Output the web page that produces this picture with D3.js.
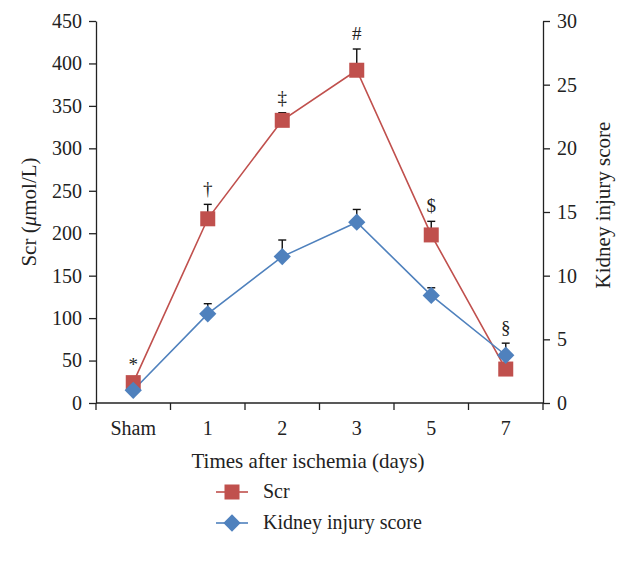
<!DOCTYPE html>
<html>
<head>
<meta charset="utf-8">
<script src="https://cdn.jsdelivr.net/npm/d3@7"></script>
<style>
  body { margin: 0; background: #fff; }
  svg text { font-family: "Liberation Serif", "DejaVu Serif", serif; fill: #222; }
</style>
</head>
<body>
<div id="chart"></div>
<script>
// data
var days = ["Sham", "1", "2", "3", "5", "7"];
var scr = [24, 217, 333, 392, 198, 40];
var scrErr = [3, 17, 9, 25, 16, 0];
var injury = [1.0, 7.0, 11.5, 14.2, 8.45, 3.75];
var injuryErr = [0.5, 0.8, 1.3, 1.0, 0.6, 0.95];
var marks = ["*", "\u2020", "\u2021", "#", "$", "\u00a7"];
var leftTicks = [0, 50, 100, 150, 200, 250, 300, 350, 400, 450];
var rightTicks = [0, 5, 10, 15, 20, 25, 30];

var width = 629, height = 574;
var red = "#c0504d", blue = "#4f81bd";

var svg = d3.select("#chart").append("svg")
  .attr("width", width)
  .attr("height", height);

var x = d3.scaleBand().domain(days).range([96, 543]);
var yL = d3.scaleLinear().domain([0, 450]).range([403, 21]);
var yR = d3.scaleLinear().domain([0, 30]).range([403, 21]);
var cx = d => x(d) + x.bandwidth() / 2;

// axes
var gl = svg.append("g").attr("transform", "translate(96,0)")
  .call(d3.axisLeft(yL).tickValues(leftTicks).tickSize(7).tickSizeOuter(0).tickPadding(7));
var gr = svg.append("g").attr("transform", "translate(543,0)")
  .call(d3.axisRight(yR).tickValues(rightTicks).tickSize(7).tickSizeOuter(0).tickPadding(7));
var gb = svg.append("g").attr("transform", "translate(0,403)")
  .call(d3.axisBottom(x).tickSize(0).tickPadding(18));
gb.select(".domain").attr("d", "M96,0H543");
gb.selectAll(".edge")
  .data(days.map(d => x(d)).concat([x.range()[1]]))
  .join("line")
  .attr("class", "edge")
  .attr("x1", d => d).attr("x2", d => d)
  .attr("y1", 0).attr("y2", 7)
  .attr("stroke", "#222");
[gl, gr, gb].forEach(g => {
  g.selectAll(".domain, .tick line, .edge").attr("stroke", "#222").attr("stroke-width", 1.3);
  g.selectAll("text").style("font-size", "20px").attr("fill", "#222");
});

// axis titles
svg.append("text")
  .attr("transform", "translate(36,212) rotate(-90)")
  .attr("text-anchor", "middle")
  .style("font-size", "21px")
  .html('Scr (<tspan font-style="italic">\u03bc</tspan>mol/L)');
svg.append("text")
  .attr("transform", "translate(610,205) rotate(-90)")
  .attr("text-anchor", "middle")
  .style("font-size", "21px")
  .text("Kidney injury score");
svg.append("text")
  .attr("x", 308).attr("y", 468)
  .attr("text-anchor", "middle")
  .style("font-size", "21px")
  .text("Times after ischemia (days)");

// error bars
function errBars(vals, errs, y) {
  var g = svg.append("g").attr("stroke", "#111").attr("stroke-width", 1.4);
  days.forEach((d, i) => {
    if (!errs[i]) return;
    g.append("line").attr("x1", cx(d)).attr("x2", cx(d))
      .attr("y1", y(vals[i])).attr("y2", y(vals[i] + errs[i]));
    g.append("line").attr("x1", cx(d) - 4).attr("x2", cx(d) + 4)
      .attr("y1", y(vals[i] + errs[i])).attr("y2", y(vals[i] + errs[i]));
  });
}
errBars(scr, scrErr, yL);
errBars(injury, injuryErr, yR);

// lines
var lineL = d3.line().x((d, i) => cx(days[i])).y(d => yL(d));
var lineR = d3.line().x((d, i) => cx(days[i])).y(d => yR(d));
svg.append("path").datum(scr).attr("d", lineL)
  .attr("fill", "none").attr("stroke", red).attr("stroke-width", 1.6);
svg.append("path").datum(injury).attr("d", lineR)
  .attr("fill", "none").attr("stroke", blue).attr("stroke-width", 1.6);

// markers
svg.append("g").selectAll("rect").data(scr).join("rect")
  .attr("x", (d, i) => cx(days[i]) - 7.5)
  .attr("y", d => yL(d) - 7.5)
  .attr("width", 15).attr("height", 15)
  .attr("fill", red);
var diamond = d3.symbol().type(d3.symbolDiamond2).size(190);
svg.append("g").selectAll("path").data(injury).join("path")
  .attr("d", diamond)
  .attr("transform", (d, i) => `translate(${cx(days[i])},${yR(d)})`)
  .attr("fill", blue);

// significance marks
var markY = [yL(scr[0] + scrErr[0]), yL(scr[1] + scrErr[1]), yL(scr[2] + scrErr[2]),
  yL(scr[3] + scrErr[3]), yL(scr[4] + scrErr[4]), yR(injury[5] + injuryErr[5])];
svg.append("g").selectAll("text").data(marks).join("text")
  .attr("x", (d, i) => cx(days[i]))
  .attr("y", (d, i) => markY[i] - 9)
  .attr("text-anchor", "middle")
  .style("font-size", "19px")
  .text(d => d);

// legend
var legend = [{name: "Scr", color: red, shape: "square"},
  {name: "Kidney injury score", color: blue, shape: "diamond"}];
var lg = svg.append("g").selectAll("g").data(legend).join("g")
  .attr("transform", (d, i) => `translate(216,${492 + i * 31})`);
lg.append("line").attr("x1", 0).attr("x2", 32)
  .attr("stroke", d => d.color).attr("stroke-width", 1.6);
lg.filter(d => d.shape === "square").append("rect")
  .attr("x", 8.5).attr("y", -7.5).attr("width", 15).attr("height", 15)
  .attr("fill", d => d.color);
lg.filter(d => d.shape === "diamond").append("path")
  .attr("d", diamond).attr("transform", "translate(16,0)")
  .attr("fill", d => d.color);
lg.append("text").attr("x", 47).attr("y", 6)
  .style("font-size", "20px")
  .text(d => d.name);
</script>
</body>
</html>
